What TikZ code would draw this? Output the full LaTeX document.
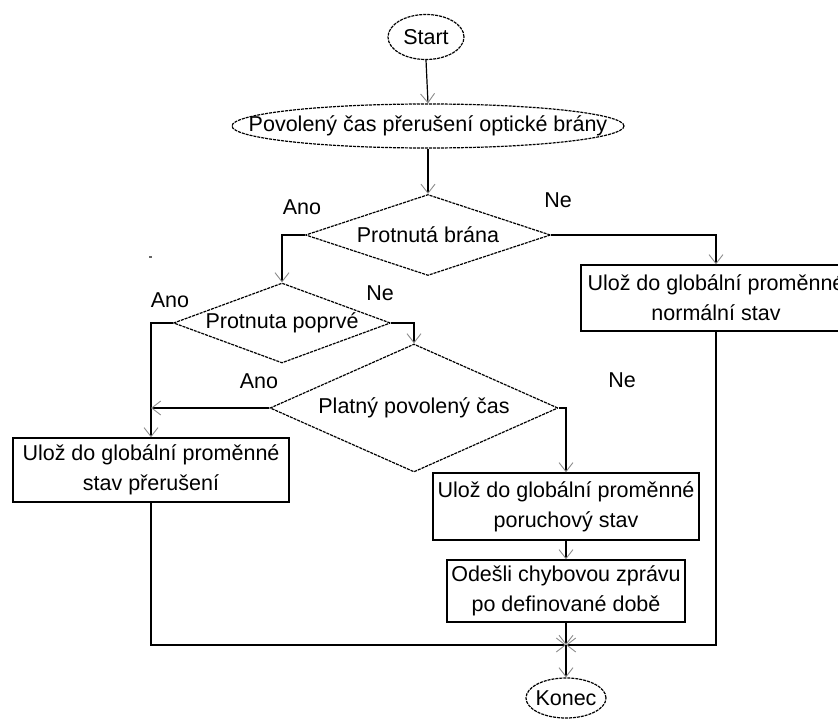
\documentclass[tikz,border=0pt]{standalone}
\usepackage{fontspec}
\setmainfont{Liberation Sans}
\usetikzlibrary{shapes.geometric,arrows.meta}

\tikzset{
  txt/.style={font=\fontsize{21.5}{30}\selectfont, text=black},
  terminal/.style={ellipse, draw=black, line width=1.2pt,
    dash pattern=on 3pt off 1pt, inner sep=0pt, txt},
  decision/.style={diamond, draw=black, line width=1.2pt,
    dash pattern=on 3pt off 1pt, inner sep=0pt, txt},
  process/.style={rectangle, draw=black, line width=1.4pt, inner sep=0pt,
    align=center, txt},
  flow/.style={draw=black, line width=1.2pt,
    -{Straight Barb[length=9pt,width=14pt,line width=0.9pt,color=black!45]}},
  answer/.style={txt, inner sep=0pt}
}

\begin{document}
\begin{tikzpicture}[x=1pt, y=-1pt]
  \useasboundingbox (0,0) rectangle (838,719);
  \clip (0,0) rectangle (838,719);

  % terminals
  \node[terminal, minimum width=76pt, minimum height=45pt,
        label={center:\fontsize{21.5}{30}\selectfont Start}] (start) at (426,37) {};
  \node[terminal, minimum width=392pt, minimum height=44pt,
        label={center:\fontsize{21.5}{30}\selectfont Povolený čas přerušení optické brány}] (gate) at (428,126) {};
  \node[terminal, minimum width=80pt, minimum height=40pt,
        label={center:\fontsize{21.5}{30}\selectfont Konec}] (konec) at (566,698) {};

  % decisions
  \node[decision, minimum width=245pt, minimum height=81pt,
        label={center:\fontsize{21.5}{30}\selectfont Protnutá brána}] (d1) at (428,235) {};
  \node[decision, minimum width=217pt, minimum height=80pt,
        label={center:\fontsize{21.5}{30}\selectfont Protnuta poprvé}] (d2) at (282,323) {};
  \node[decision, minimum width=288pt, minimum height=128pt,
        label={center:\fontsize{21.5}{30}\selectfont Platný povolený čas}] (d3) at (414,408) {};

  % process boxes
  \node[process, minimum width=270pt, minimum height=66pt] (normal) at (716,298)
        {Ulož do globální proměnné\\normální stav};
  \node[process, minimum width=276pt, minimum height=64pt] (interrupt) at (151,470)
        {Ulož do globální proměnné\\stav přerušení};
  \node[process, minimum width=266pt, minimum height=67pt] (fault) at (566,506.5)
        {Ulož do globální proměnné\\poruchový stav};
  \node[process, minimum width=238pt, minimum height=62pt] (report) at (566,591)
        {Odešli chybovou zprávu\\po definované době};

  % branch labels
  \node[answer] (ano1) at (302,207) {Ano};
  \node[answer] (ne1)  at (558,200) {Ne};
  \node[answer] (ano2) at (170,300) {Ano};
  \node[answer] (ne2)  at (380,293) {Ne};
  \node[answer] (ano3) at (259,381) {Ano};
  \node[answer] (ne3)  at (622,380) {Ne};

  % joining point above the end terminal
  \coordinate (merge) at (566,645);

  % connectors
  \draw[flow] (start.south) -- (gate.north);
  \draw[flow] (gate.south) -- (d1.north);
  \draw[flow] (d1.west) -| (d2.north);
  \draw[flow] (d1.east) -| (normal.north);
  \draw[flow] (d2.west) -| (interrupt.north);
  \draw[flow] (d2.east) -| (d3.north);
  \draw[flow] (d3.west) -- (d3.west -| interrupt.north);
  \draw[flow] (d3.east) -| (fault.north);
  \draw[flow] (fault.south) -- (report.north);
  \draw[flow] (report.south) -- (merge);
  \draw[flow] (interrupt.south) |- (merge);
  \draw[flow] (normal.south) |- (merge);
  \draw[flow] (merge) -- (konec.north);

  % small speck left of the first branch
  \fill[black!60] (149,256) rectangle (151.5,258.5);
\end{tikzpicture}
\end{document}
